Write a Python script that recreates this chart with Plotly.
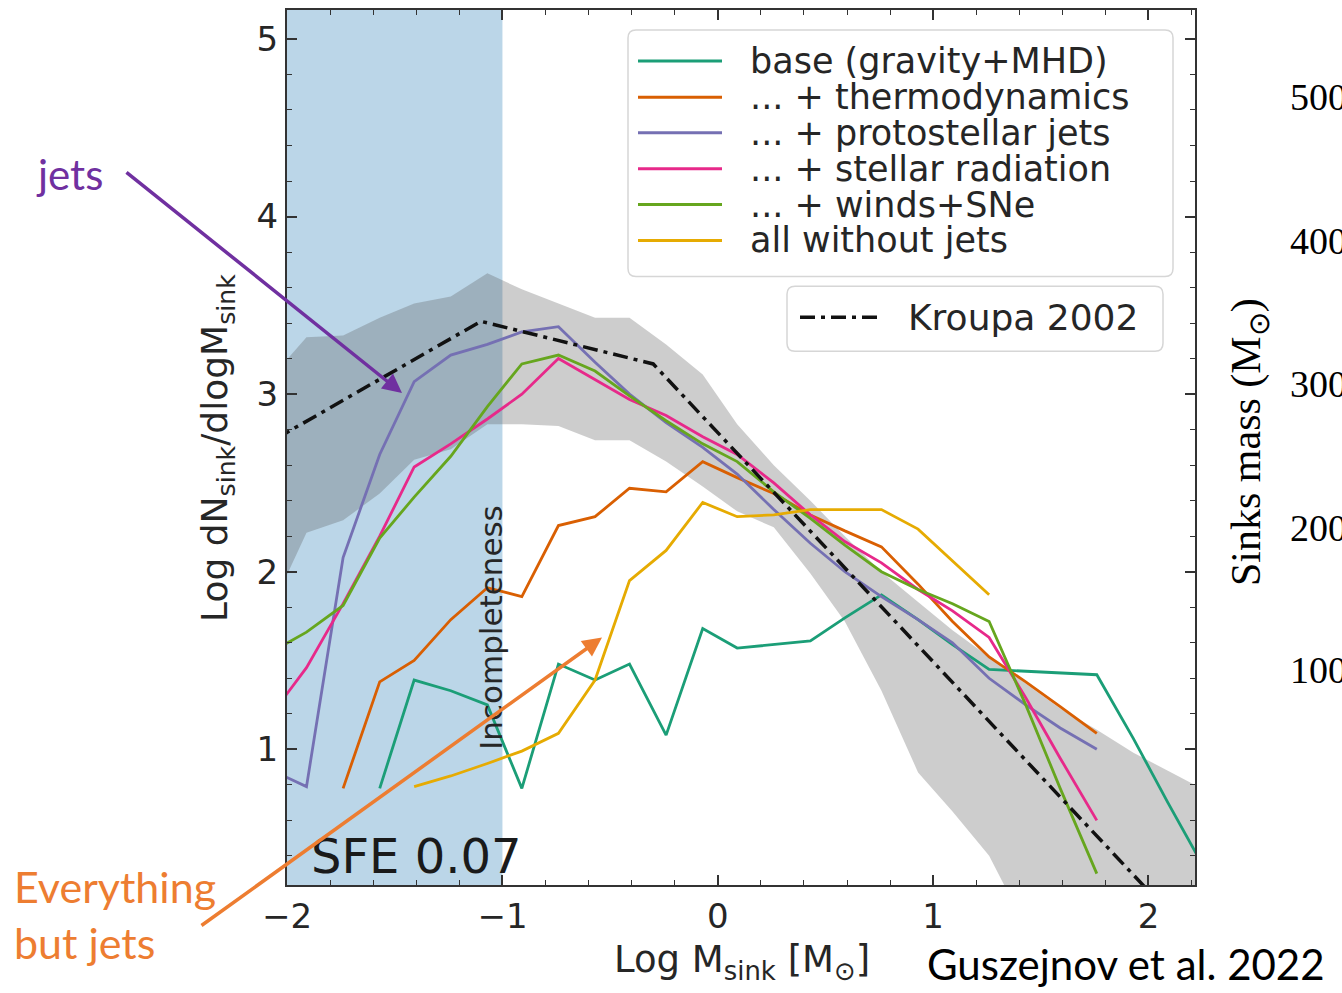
import plotly.graph_objects as go

# ---------------- data ----------------
log_m = [-2.07, -1.91, -1.74, -1.57, -1.41, -1.24, -1.07, -0.91, -0.74, -0.57, -0.41, -0.24, -0.07,
         0.09, 0.26, 0.43, 0.59, 0.76, 0.93, 1.09, 1.26, 1.43, 1.59, 1.76, 1.93, 2.09, 2.26]

base = [None, None, None, 0.78, 1.39, 1.33, 1.25, 0.78, 1.48, 1.39, 1.48, 1.08, 1.68,
        1.57, 1.59, 1.61, 1.74, 1.87, 1.73, 1.59, 1.45, 1.44, 1.43, 1.42, 1.06, 0.70, 0.33]
thermo = [None, None, 0.78, 1.38, 1.50, 1.73, 1.91, 1.86, 2.26, 2.31, 2.47, 2.45, 2.62,
          2.53, 2.44, 2.32, 2.23, 2.14, 1.93, 1.72, 1.52, 1.38, 1.24, 1.09, None, None, None]
jets = [0.88, 0.79, 2.08, 2.66, 3.07, 3.22, 3.28, 3.35, 3.38, 3.18, 3.00, 2.84, 2.70,
        2.55, 2.35, 2.16, 2.00, 1.86, 1.73, 1.60, 1.40, 1.25, 1.12, 1.00, None, None, None]
radiation = [1.20, 1.46, 1.82, 2.20, 2.59, 2.72, 2.86, 3.00, 3.20, 3.08, 2.97, 2.88, 2.76,
             2.66, 2.50, 2.32, 2.17, 2.05, 1.90, 1.78, 1.63, 1.29, 0.95, 0.60, None, None, None]
winds = [1.55, 1.66, 1.81, 2.19, 2.42, 2.65, 2.93, 3.17, 3.22, 3.13, 2.99, 2.85, 2.72,
         2.62, 2.45, 2.30, 2.15, 2.00, 1.90, 1.82, 1.72, 1.25, 0.78, 0.30, None, None, None]
nojets = [None, None, None, None, 0.79, 0.85, 0.92, 0.99, 1.09, 1.39, 1.95, 2.12, 2.39,
          2.31, 2.32, 2.35, 2.35, 2.35, 2.24, 2.06, 1.87, None, None, None, None, None, None]

band_hi = [3.10, 3.32, 3.33, 3.43, 3.51, 3.55, 3.68, 3.59, 3.51, 3.43, 3.43, 3.28, 3.11,
           2.83, 2.60, 2.40, 2.20, 2.00, 1.83, 1.67, 1.52, 1.37, 1.23, 1.11, 0.98, 0.88, 0.77]
band_lo = [1.80, 2.22, 2.29, 2.44, 2.63, 2.69, 2.83, 2.83, 2.82, 2.74, 2.74, 2.62, 2.48,
           2.34, 2.25, 1.99, 1.72, 1.33, 0.87, 0.65, 0.40, 0.0, 0.0, 0.0, 0.0, 0.0, 0.0]

kroupa_x = [-2.05, -1.10, -0.30, 2.25]
kroupa_y = [2.75, 3.41, 3.17, -0.12]

series_names = ["base (gravity+MHD)", "... + thermodynamics", "... + protostellar jets",
                "... + stellar radiation", "... + winds+SNe", "all without jets"]
series_vals = [base, thermo, jets, radiation, winds, nojets]
series_colors = ["#1b9e77", "#d95f02", "#7570b3", "#e7298a", "#66a61e", "#e6ab02"]

incomplete_limit = -1.0
right_ticks = ["500", "400", "300", "200", "100"]

# ---------------- layout helpers (pixel -> paper) ----------------
W, H = 1342, 993
PL, PR, PT, PB = 287, 1195, 8, 885


def px(x):
    return (x - PL) / (PR - PL)


def py(y):
    return (PB - y) / (PB - PT)


FONT = "DejaVu Sans"
TXT = "#262626"
DASHDOT = "15px,6px,4px,6px"

fig = go.Figure()

# scatter band
fig.add_trace(go.Scatter(x=log_m, y=band_lo, mode="lines", line=dict(width=0),
                         hoverinfo="skip", showlegend=False))
fig.add_trace(go.Scatter(x=log_m, y=band_hi, mode="lines", line=dict(width=0),
                         fill="tonexty", fillcolor="rgba(90,90,90,0.30)",
                         hoverinfo="skip", showlegend=False))

for name, vals, col in zip(series_names, series_vals, series_colors):
    fig.add_trace(go.Scatter(x=log_m, y=vals, mode="lines", name=name,
                             line=dict(color=col, width=2.8), showlegend=False))

fig.add_trace(go.Scatter(x=kroupa_x, y=kroupa_y, mode="lines", name="Kroupa 2002",
                         line=dict(color="#111111", width=3.5, dash=DASHDOT), showlegend=False))

shapes = []
# incompleteness region
shapes.append(dict(type="rect", xref="x", yref="paper", x0=-2.5, x1=incomplete_limit, y0=0, y1=1,
                   fillcolor="rgba(31,119,180,0.30)", line=dict(width=0), layer="below"))


def rounded(x0, y0, x1, y1, r=8):
    # pixel box -> rounded path in paper coords
    rx = r / (PR - PL)
    ry = r / (PB - PT)
    X0, X1 = px(x0), px(x1)
    Y0, Y1 = py(y0), py(y1)
    return (f"M {X0+rx},{Y0} L {X1-rx},{Y0} Q {X1},{Y0} {X1},{Y0-ry} "
            f"L {X1},{Y1+ry} Q {X1},{Y1} {X1-rx},{Y1} L {X0+rx},{Y1} "
            f"Q {X0},{Y1} {X0},{Y1+ry} L {X0},{Y0-ry} Q {X0},{Y0} {X0+rx},{Y0} Z")


shapes.append(dict(type="path", xref="paper", yref="paper", path=rounded(628, 28, 1173, 275),
                   fillcolor="rgba(255,255,255,0.85)", line=dict(color="#d6d6d6", width=1.5),
                   layer="above"))
shapes.append(dict(type="path", xref="paper", yref="paper", path=rounded(787, 285, 1163, 350),
                   fillcolor="rgba(255,255,255,0.85)", line=dict(color="#d6d6d6", width=1.5),
                   layer="above"))

annotations = []
rows = [59, 95.5, 131, 167, 203, 239]
for name, col, r in zip(series_names, series_colors, rows):
    shapes.append(dict(type="line", xref="paper", yref="paper", x0=px(638), x1=px(722),
                       y0=py(r), y1=py(r), line=dict(color=col, width=3), layer="above"))
    annotations.append(dict(xref="paper", yref="paper", x=px(748), y=py(r), text=name,
                            xanchor="left", yanchor="middle", showarrow=False,
                            font=dict(family=FONT, size=35, color=TXT)))
shapes.append(dict(type="line", xref="paper", yref="paper", x0=px(800), x1=px(877),
                   y0=py(316), y1=py(316), line=dict(color="#111111", width=3.5, dash=DASHDOT),
                   layer="above"))
annotations.append(dict(xref="paper", yref="paper", x=px(906), y=py(316), text="Kroupa 2002",
                        xanchor="left", yanchor="middle", showarrow=False,
                        font=dict(family=FONT, size=36, color=TXT)))

# in-plot labels
annotations.append(dict(xref="x", yref="y", x=-1.057, y=1.685, text="Incompleteness",
                        textangle=-90, showarrow=False, xanchor="center", yanchor="middle",
                        font=dict(family=FONT, size=31, color=TXT)))
annotations.append(dict(xref="x", yref="y", x=-1.90, y=0.40, text="SFE 0.07",
                        showarrow=False, xanchor="left", yanchor="middle",
                        font=dict(family=FONT, size=48, color="#1a1a1a")))

# axis titles
annotations.append(dict(xref="paper", yref="paper", x=px(742), y=py(962),
                        text="Log M<sub>sink</sub> [M<sub>⊙</sub>]", showarrow=False,
                        xanchor="center", yanchor="middle",
                        font=dict(family=FONT, size=37, color=TXT)))
annotations.append(dict(xref="paper", yref="paper", x=px(218), y=py(447),
                        text="Log dN<sub>sink</sub>/dlogM<sub>sink</sub>", showarrow=False,
                        textangle=-90, xanchor="center", yanchor="middle",
                        font=dict(family=FONT, size=36, color=TXT)))

# slide annotations
annotations.append(dict(xref="paper", yref="paper", x=px(69), y=py(172), text="jets",
                        showarrow=False, xanchor="center", yanchor="middle",
                        font=dict(family="Lato", size=42, color="#7030a0")))
annotations.append(dict(xref="paper", yref="paper", x=px(402), y=py(392), text="",
                        showarrow=True, axref="pixel", ayref="pixel", ax=125 - 402, ay=170 - 392,
                        arrowhead=2, arrowsize=1.1, arrowwidth=3.5, arrowcolor="#7030a0",
                        standoff=0))
annotations.append(dict(xref="paper", yref="paper", x=px(12), y=py(915),
                        text="Everything<br>but jets", showarrow=False, align="left",
                        xanchor="left", yanchor="middle",
                        font=dict(family="Lato", size=43, color="#ed7d31")))
annotations.append(dict(xref="paper", yref="paper", x=px(602), y=py(637), text="",
                        showarrow=True, axref="pixel", ayref="pixel", ax=200 - 602, ay=926 - 637,
                        arrowhead=2, arrowsize=1.1, arrowwidth=3.5, arrowcolor="#ed7d31",
                        standoff=0))
annotations.append(dict(xref="paper", yref="paper", x=px(925), y=py(964),
                        text="Guszejnov et al. 2022", showarrow=False,
                        xanchor="left", yanchor="middle",
                        font=dict(family="Lato", size=42, color="#000000")))
annotations.append(dict(xref="paper", yref="paper", x=px(1249), y=py(441),
                        text="Sinks mass (M<sub>⊙</sub>)", showarrow=False, textangle=-90,
                        xanchor="center", yanchor="middle",
                        font=dict(family="Liberation Serif", size=42, color="#000000")))
for lab, yy in zip(right_ticks, [95, 240, 383, 527, 670]):
    annotations.append(dict(xref="paper", yref="paper", x=px(1288), y=py(yy), text=lab,
                            showarrow=False, xanchor="left", yanchor="middle",
                            font=dict(family="Liberation Serif", size=38, color="#000000")))

axis_common = dict(tickmode="linear", tick0=0, dtick=1,
                   ticks="inside", ticklen=10, tickwidth=1.5, tickcolor="#333333",
                   showline=True, linecolor="#333333", linewidth=2, mirror="allticks",
                   showgrid=False, zeroline=False,
                   tickfont=dict(family=FONT, size=34, color=TXT),
                   minor=dict(ticks="inside", ticklen=5, tickwidth=1, tickcolor="#333333",
                              tickmode="linear", dtick=0.2, tick0=0, showgrid=False))

fig.update_layout(
    width=W, height=H, autosize=False,
    margin=dict(l=PL, r=W - PR, t=PT, b=H - PB),
    paper_bgcolor="white", plot_bgcolor="white",
    showlegend=False,
    xaxis=dict(range=[-2.0005, 2.216], **axis_common),
    yaxis=dict(range=[0.236, 5.163], **axis_common),
    shapes=shapes, annotations=annotations,
)

fig.write_html("out.html")
